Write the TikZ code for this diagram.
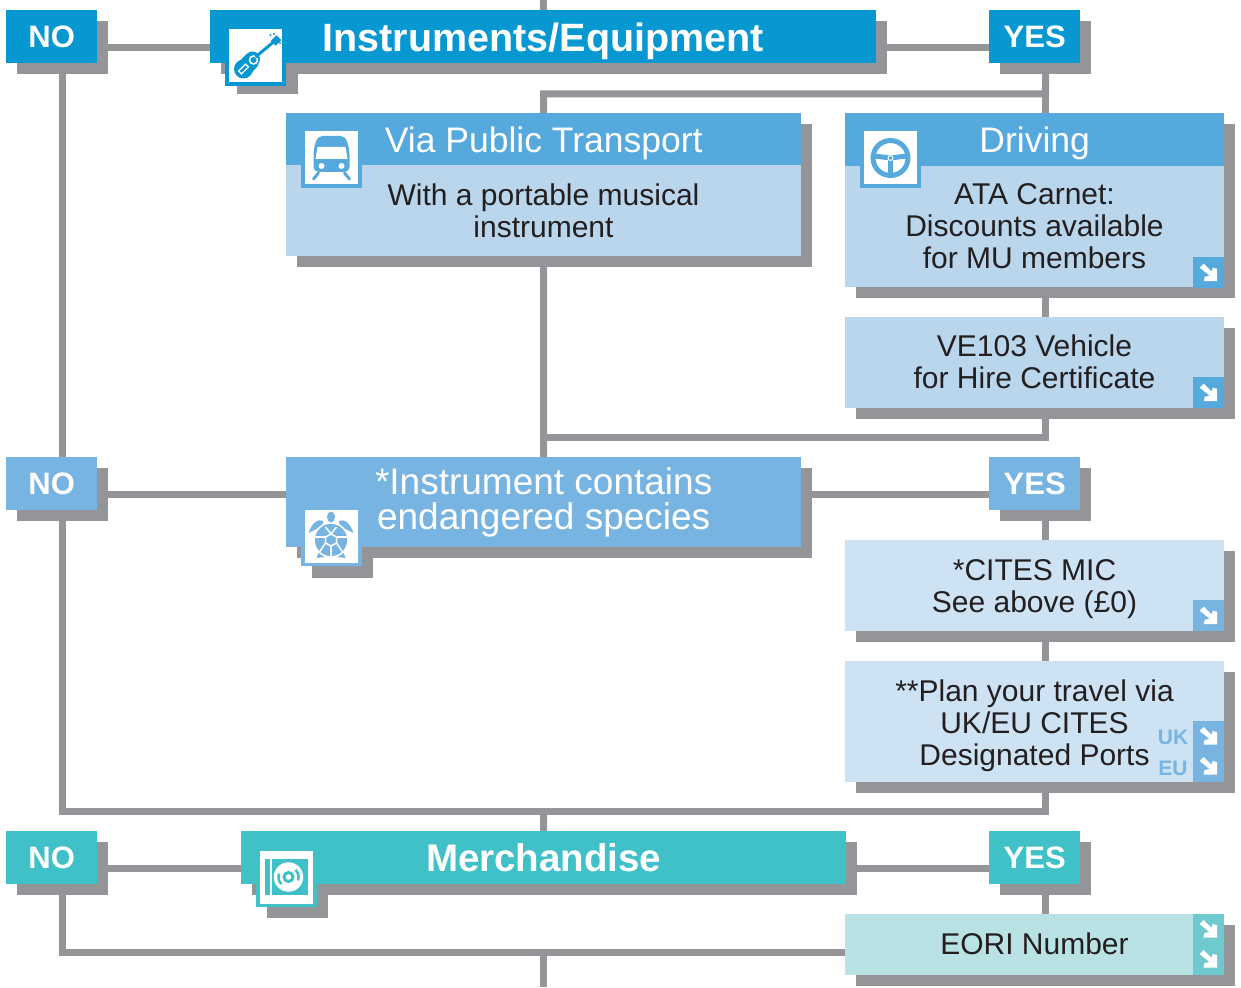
\documentclass[tikz,border=0pt]{standalone}
\usepackage{fontspec}
\setmainfont{Liberation Sans}
\usetikzlibrary{shadows,backgrounds}
\definecolor{barGray}{HTML}{939598}
\definecolor{inkBlack}{HTML}{231F20}
\definecolor{instrBlue}{HTML}{0798D2}
\definecolor{headBlue}{HTML}{55A9DD}
\definecolor{bodyBlue}{HTML}{BAD6EC}
\definecolor{midBlue}{HTML}{78B4E1}
\definecolor{paleBlue}{HTML}{CDE2F3}
\definecolor{merchTeal}{HTML}{40C1C7}
\definecolor{paleTeal}{HTML}{B9E2E4}
\definecolor{tileTeal}{HTML}{6FCAD0}
\tikzset{
  dims/.style 2 args={minimum width=#1pt,minimum height=#2pt},
  link/.style={barGray,line width=7pt},
  fbox/.style={anchor=north west,inner sep=0pt,align=center,text=inkBlack,
    font=\fontsize{30}{32}\selectfont,
    drop shadow={shadow xshift=11pt,shadow yshift=-11pt,fill=barGray,opacity=1}},
  answer/.style={fbox,dims={91}{53},text=white,font=\fontsize{31}{31}\selectfont\bfseries},
  head/.style={anchor=north west,inner sep=0pt,text=white,fill=headBlue,text depth=0pt,
    font=\fontsize{35.5}{36}\selectfont},
  bodytext/.style={align=center,text=inkBlack,inner sep=0pt,font=\fontsize{30}{32}\selectfont},
  tile/.style={anchor=north west,inner sep=0pt,dims={31}{31}},
  port/.style={inner sep=0pt,text=midBlue,font=\fontsize{21}{21}\selectfont\bfseries},
  iconframe/.style={inner sep=0pt,dims={61}{60}},
  iconwhite/.style={inner sep=0pt,dims={53}{53},fill=white},
  iconshadow/.style={inner sep=0pt,dims={61}{60},fill=barGray},
  diagarrow/.pic={
    \fill[white] (-9,-5) -- (-5,-9) -- (3,-1) -- (4,-5) -- (8.5,-4) -- (8.5,8.5) -- (-5,8.5) -- (-4,4) -- (1,3) -- cycle;
  },
  guitar/.pic={
    \fill[instrBlue] (-12,13) circle[radius=9.5];
    \fill[instrBlue] (-3,3) circle[radius=7.5];
    \fill[instrBlue] (-17,6) -- (-9,-2) -- (3,9) -- (-4,17) -- cycle;
    \draw[white,line width=1.5pt] (-2,4) circle[radius=4];
    \draw[white,line width=1.2pt,rotate around={45:(-12,13)}] (-17,11) rectangle (-7,15);
    \draw[instrBlue,line width=3pt] (0,1) -- (18,-14);
    \fill[instrBlue,rotate around={45:(20.5,-15.5)}] (16.5,-19) rectangle (24.5,-12);
    \foreach \px/\py in {15/-21,18.5/-22,24.5/-13,24.5/-16}
      \fill[instrBlue] (\px,\py) circle[radius=1.2];
  },
  trainicon/.pic={
    \fill[headBlue,rounded corners=5pt] (-14,-22) -- (14,-22) -- (18,-8) -- (18,14) -- (-18,14) -- (-18,-8) -- cycle;
    \fill[white] (-14,-11) -- (14,-11) -- (16,1) -- (-16,1) -- cycle;
    \fill[white] (-10,8) circle[radius=3];
    \fill[white] (10,8) circle[radius=3];
    \draw[headBlue,line width=3pt,line cap=round] (-13,15) -- (-18,21);
    \draw[headBlue,line width=3pt,line cap=round] (13,15) -- (18,21);
  },
  wheelicon/.pic={
    \draw[headBlue,line width=5pt] (0,0) circle[radius=17.5];
    \draw[headBlue,line width=5pt] (0,0) -- (-16,-2);
    \draw[headBlue,line width=5pt] (0,0) -- (16,-2);
    \draw[headBlue,line width=5pt] (0,0) -- (0,17);
    \draw[white,line width=1pt,fill=headBlue] (0,0) circle[radius=2.5];
  },
  turtleicon/.pic={
    \fill[midBlue] (-0.5,-19) ellipse[x radius=4,y radius=5.5];
    \fill[midBlue] (-8,-15) .. controls (-14,-18) and (-20,-12) .. (-23,-3) .. controls (-18,-6) and (-12,-8) .. (-10,-9) -- cycle;
    \fill[midBlue] (7,-15) .. controls (13,-18) and (19,-12) .. (22,-3) .. controls (17,-6) and (11,-8) .. (9,-9) -- cycle;
    \fill[midBlue] (-12,14) -- (-15,22) -- (-7,21) -- cycle;
    \fill[midBlue] (11,14) -- (14,22) -- (6,21) -- cycle;
    \draw[white,line width=1.5pt,fill=midBlue] (-0.5,4) circle[radius=17];
    \draw[white,line width=1.5pt] (-0.5,-2) -- (5,1) -- (5,7) -- (-0.5,10) -- (-6,7) -- (-6,1) -- cycle;
    \draw[white,line width=1.5pt] (-6,-9) -- (-0.5,-2) -- (5,-9);
    \draw[white,line width=1.5pt] (5,1) -- (16,1) (-6,1) -- (-17,1);
    \draw[white,line width=1.5pt] (5,7) -- (11,16) (-6,7) -- (-12,16);
    \draw[white,line width=1.5pt] (-0.5,10) -- (-0.5,21);
  },
  discicon/.pic={
    \fill[merchTeal] (-22,-18) rectangle (21,18);
    \fill[white] (-17,-18) rectangle (-15,18);
    \fill[white] (2,0) circle[radius=14.7];
    \draw[merchTeal,line width=3pt] (2,0) circle[radius=4.5];
    \draw[merchTeal,line width=2.5pt] (9.1,-7.1) arc[start angle=-45,end angle=20,radius=10];
    \draw[merchTeal,line width=2.5pt] (-5.1,7.1) arc[start angle=135,end angle=200,radius=10];
  }
}
\begin{document}
\begin{tikzpicture}[x=1pt,y=-1pt]
\useasboundingbox (0,0) rectangle (1241,987);
\coordinate (topin) at (543.5,0);
\coordinate (jointop) at (543.5,94);
\coordinate (joinmid) at (543.5,437);
\coordinate (joinmerch) at (543.5,811);
\coordinate (joinlow) at (543.5,952);
\coordinate (bottomout) at (543.5,987);

\node[answer,fill=instrBlue] (no1) at (6,10) {NO};
\node[answer,fill=instrBlue] (yes1) at (989,10) {YES};
\node[fbox,dims={666}{53},fill=instrBlue,text=white,text depth=0pt,font=\fontsize{39.5}{40}\selectfont\bfseries] (instr) at (210,10) {Instruments/Equipment};

\node[fbox,dims={515}{143},fill=bodyBlue] (via) at (286,113) {};
\node[head,dims={515}{52}] (viahead) at (286,113) {Via Public Transport};
\node[bodytext] (viatext) at (543.5,211) {With a portable musical\\instrument};

\node[fbox,dims={379}{174},fill=bodyBlue] (driving) at (845,113) {};
\node[head,dims={379}{53}] (drivinghead) at (845,113) {Driving};
\node[bodytext] (drivingtext) at (1034.5,226) {ATA Carnet:\\Discounts available\\for MU members};
\node[tile,fill=headBlue] (drivingtile) at (1193,257) {};

\node[fbox,dims={379}{91},fill=bodyBlue] (ve) at (845,317) {};
\node[bodytext] (vetext) at (1034.5,362) {VE103 Vehicle\\for Hire Certificate};
\node[tile,fill=headBlue] (vetile) at (1193,377) {};

\node[answer,fill=midBlue] (no2) at (6,457) {NO};
\node[answer,fill=midBlue] (yes2) at (989,457) {YES};
\node[fbox,dims={515}{90},fill=midBlue,text=white,font=\fontsize{37}{35}\selectfont] (species) at (286,457) {*Instrument contains\\endangered species};

\node[fbox,dims={379}{91},fill=paleBlue] (cites) at (845,540) {};
\node[bodytext] (citestext) at (1034.5,589) {*CITES MIC\\See above (£0)};
\node[tile,fill=midBlue] (citestile) at (1193,600) {};

\node[fbox,dims={379}{121},fill=paleBlue] (plan) at (845,661) {};
\node[bodytext] (plantext) at (1034.5,726) {**Plan your travel via\\UK/EU CITES\\Designated Ports};
\node[tile,dims={31}{61},fill=midBlue] (plantile) at (1193,721) {};
\node[port] (uk) at (1173,737) {UK};
\node[port] (eu) at (1173,768) {EU};

\node[answer,fill=merchTeal] (no3) at (6,831) {NO};
\node[answer,fill=merchTeal] (yes3) at (989,831) {YES};
\node[fbox,dims={605}{53},fill=merchTeal,text=white,font=\fontsize{38.5}{39}\selectfont\bfseries] (merch) at (241,831) {Merchandise};

\node[fbox,dims={379}{61},fill=paleTeal] (eori) at (845,914) {};
\node[bodytext] (eoritext) at (1034.5,944) {EORI Number};
\node[tile,dims={31}{61},fill=tileTeal] (eoritile) at (1193,914) {};

\pic at (drivingtile.center) {diagarrow};
\pic at (vetile.center) {diagarrow};
\pic at (citestile.center) {diagarrow};
\pic at (1208.5,736) {diagarrow};
\pic at (1208.5,766) {diagarrow};
\pic at (1208.5,929) {diagarrow};
\pic at (1208.5,959) {diagarrow};

\node[iconframe,fill=instrBlue] (guitarframe) at (255.5,56) {};
\node[iconwhite] (guitartile) at (255.5,56) {};
\pic at (guitartile.center) {guitar};
\node[iconframe,fill=headBlue] (trainframe) at (331.5,158) {};
\node[iconwhite] (traintile) at (331.5,158) {};
\pic at (traintile.center) {trainicon};
\node[iconframe,fill=headBlue] (wheelframe) at (890.5,158) {};
\node[iconwhite] (wheeltile) at (890.5,158) {};
\pic at (wheeltile.center) {wheelicon};
\node[iconframe,fill=midBlue] (turtleframe) at (331.5,536) {};
\node[iconwhite] (turtletile) at (331.5,536) {};
\pic at (turtletile.center) {turtleicon};
\node[iconframe,fill=merchTeal] (discframe) at (286.5,877) {};
\node[iconwhite] (disctile) at (286.5,877) {};
\pic at (disctile.center) {discicon};

\begin{scope}[on background layer]
\foreach \n in {no1,yes1,no2,yes2,no3,yes3,ve,plan,eori}
  \coordinate (\n s) at ([shift={(11,11)}]\n.center);
\node[iconshadow] (guitarshadow) at (267.5,64) {};
\node[iconshadow] (turtleshadow) at (342.5,548) {};
\node[iconshadow] (discshadow) at (297.5,888) {};
\draw[link] (topin) -- (instr);
\draw[link] (no1s) -- (yes1s);
\draw[link] (yes1s) -- (ves);
\draw[link] (yes1s) |- (jointop) -- (via);
\draw[link] (via) -- (joinmid) -- (species);
\draw[link] (ves) |- (joinmid);
\draw[link] (no1s) -- (no2s);
\draw[link] (no2s) -- (yes2s);
\draw[link] (yes2s) -- (plans);
\draw[link] (no2s) |- (joinmerch);
\draw[link] (plans) |- (joinmerch);
\draw[link] (joinmerch) -- (merch);
\draw[link] (no3s) -- (yes3s);
\draw[link] (yes3s) -- (eoris);
\draw[link] (no3s) |- (eori.west |- joinlow);
\draw[link] (joinlow) -- (bottomout);
\end{scope}
\end{tikzpicture}
\end{document}
